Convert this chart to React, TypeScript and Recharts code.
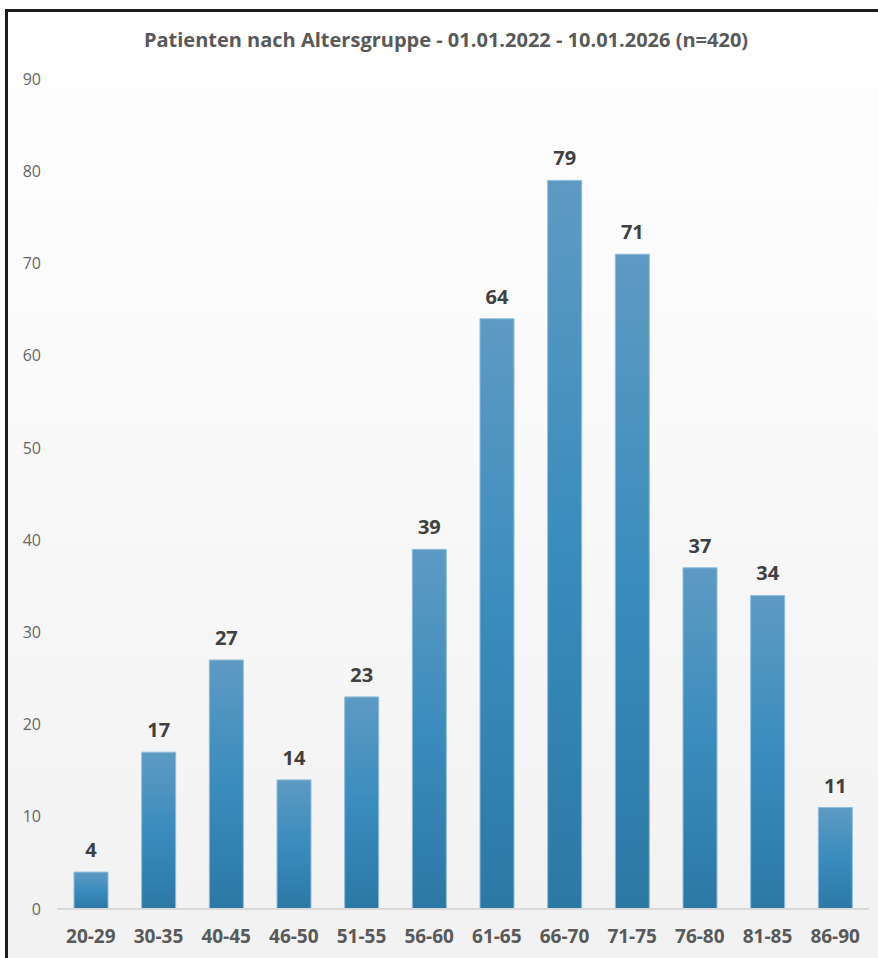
import { BarChart, Bar, XAxis, YAxis, LabelList } from "recharts";

const ageGroups = [
  "20-29", "30-35", "40-45", "46-50", "51-55", "56-60",
  "61-65", "66-70", "71-75", "76-80", "81-85", "86-90",
];
const patients = [4, 17, 27, 14, 23, 39, 64, 79, 71, 37, 34, 11];
const yTicks = [0, 10, 20, 30, 40, 50, 60, 70, 80, 90];
const title = "Patienten nach Altersgruppe - 01.01.2022 - 10.01.2026 (n=420)";

const data = ageGroups.map((group, i) => ({ group, count: patients[i] }));

const font = "'Open Sans', 'Liberation Sans', sans-serif";

export default function App() {
  return (
    <div
      style={{
        position: "absolute",
        left: 0,
        top: 0,
        width: 878,
        height: 958,
        overflow: "hidden",
        background: "#fff",
        fontFamily: font,
      }}
    >
      <div
        style={{
          position: "absolute",
          left: 5,
          top: 9,
          width: 900,
          height: 980,
          borderLeft: "3px solid #1b1b1b",
          borderTop: "3px solid #1b1b1b",
          background: "linear-gradient(#ffffff, #f1f1f1)",
        }}
      />
      <div
        style={{
          position: "absolute",
          left: 0,
          top: 30,
          width: 892,
          textAlign: "center",
          fontSize: 20,
          lineHeight: "20px",
          fontWeight: 700,
          color: "#595959",
          whiteSpace: "nowrap",
        }}
      >
        {title}
      </div>
      <div style={{ position: "absolute", left: 0, top: 0 }}>
        <BarChart
          width={878}
          height={958}
          data={data}
          margin={{ top: 79, right: 9, bottom: 0, left: 7 }}
          barSize={34}
        >
          <defs>
            <linearGradient id="barFill" x1="0" y1="0" x2="0" y2="1">
              <stop offset="0%" stopColor="#5e9ac3" />
              <stop offset="50%" stopColor="#3a8cbd" />
              <stop offset="100%" stopColor="#2c78a5" />
            </linearGradient>
          </defs>
          <XAxis
            dataKey="group"
            height={49}
            axisLine={{ stroke: "#d9d9d9", strokeWidth: 2 }}
            tickLine={false}
            tickMargin={15}
            interval={0}
            tick={{ fill: "#595959", fontSize: 19, fontWeight: 700, fontFamily: font }}
          />
          <YAxis
            width={50}
            domain={[0, 90]}
            ticks={yTicks}
            axisLine={false}
            tickLine={false}
            tickMargin={10}
            tick={{ fill: "#666666", fontSize: 16, fontFamily: font }}
          />
          <Bar
            dataKey="count"
            fill="url(#barFill)"
            stroke="#8fbcdb"
            strokeWidth={1}
            isAnimationActive={false}
          >
            <LabelList
              dataKey="count"
              position="top"
              offset={15}
              fill="#404040"
              fontSize={20}
              fontWeight={700}
              fontFamily={font}
            />
          </Bar>
        </BarChart>
      </div>
    </div>
  );
}
